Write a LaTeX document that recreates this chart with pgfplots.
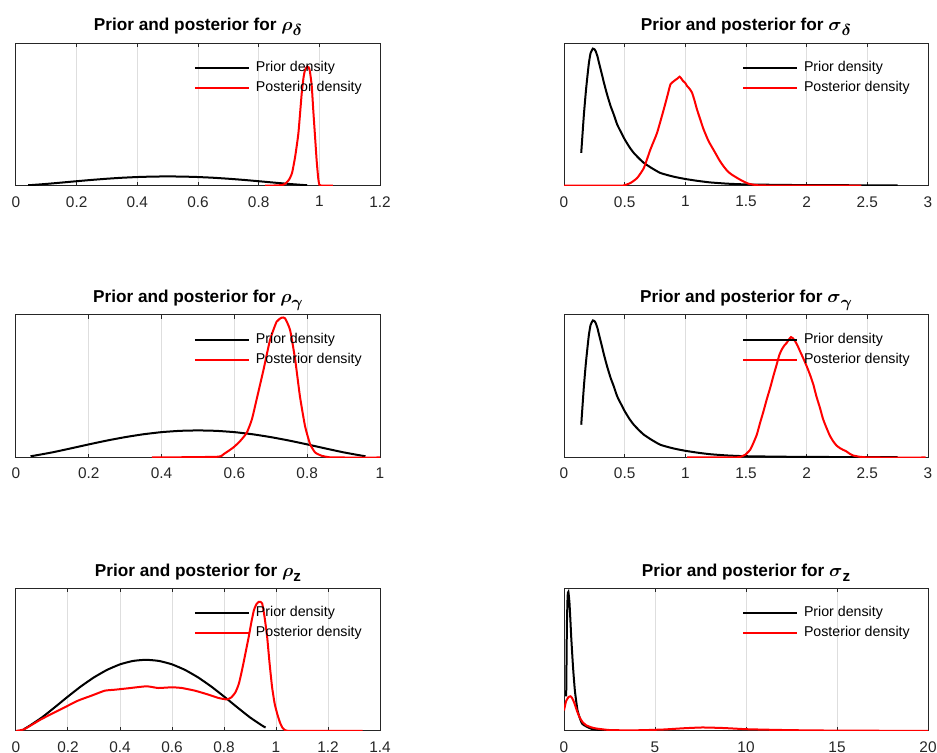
\documentclass[border=0pt]{standalone}
\usepackage{pgfplots}
\pgfplotsset{compat=1.18}
\usepackage{amsmath}
\usepackage{bm}
\usepackage{fontspec}
\setmainfont{Liberation Sans}
\definecolor{axcol}{RGB}{38,38,38}
\definecolor{gridcol}{RGB}{222,222,222}
\definecolor{postred}{RGB}{255,0,0}
\newcommand{\sub}[1]{\raisebox{-2.6pt}{\fontsize{7.6}{8}\selectfont#1}}
\pgfplotsset{
  panel/.style={
    scale only axis, width=182pt, height=71.25pt,
    xmin=0, ymin=0, ymax=1, enlargelimits=false,
    ytick=\empty,
    xmajorgrids, grid style={draw=gridcol, line width=0.5pt},
    axis line style={draw=axcol, line width=0.5pt},
    tick align=inside, xtick pos=both, major tick length=1.8pt,
    tick style={draw=axcol, line width=0.5pt},
    xticklabel style={font=\fontsize{7.7}{9}\selectfont, text=axcol, yshift=-1.8pt},
    /pgf/number format/assume math mode=true,
    scaled x ticks=false,
    every axis title/.style={font=\bfseries\fontsize{8.6}{10}\selectfont, at={(0.5,1)}, anchor=base, yshift=6.2pt, inner sep=0pt},
    legend style={draw=none, fill=none, at={(0.489,1)}, anchor=north west, yshift=-9pt,
      inner sep=0pt, outer sep=0pt, font=\fontsize{7.1}{8}\selectfont, text=black,
      row sep=3.3pt, column sep=3pt,
      nodes={inner sep=0pt, text height=5.2pt, text depth=1.5pt, anchor=west}},
    legend cell align=left,
    legend image code/.code={\draw[#1] (0pt,0pt) -- (27pt,0pt);},
    every axis plot/.append style={line width=1pt},
  },
  prior/.style={black, line width=1pt, smooth, tension=0.3},
  post/.style={postred, line width=1pt, smooth, tension=0.3},
}
\begin{document}
\begin{tikzpicture}
\useasboundingbox (0,0) rectangle (468.5pt,-376.5pt);

% ---------- rho_delta ----------
\begin{axis}[panel, at={(8pt,-21.6pt)}, anchor=north west,
  xmax=1.2, xtick={0,0.2,0.4,0.6,0.8,1,1.2},
  title={Prior and posterior for $\bm{\rho}$\sub{$\bm{\delta}$}}]
\addplot[prior] coordinates {(0.04,0.0031)(0.05,0.0044)(0.1,0.0124)(0.15,0.0218)(0.2,0.0315)(0.25,0.0407)(0.3,0.0489)(0.35,0.0558)(0.4,0.0608)(0.45,0.0639)(0.5,0.065)(0.55,0.0639)(0.6,0.0608)(0.65,0.0558)(0.7,0.0489)(0.75,0.0407)(0.8,0.0315)(0.85,0.0218)(0.9,0.0124)(0.95,0.0044)(0.96,0.0031)};
\addlegendentry{Prior density}
\addplot[post] coordinates {(0.821,0)(0.86,0.002)(0.88,0.006)(0.89,0.018)(0.90,0.042)(0.91,0.089)(0.92,0.20)(0.931,0.369)(0.942,0.650)(0.948,0.76)(0.953,0.813)(0.96,0.836)(0.965,0.83)(0.969,0.801)(0.975,0.70)(0.98,0.530)(0.986,0.34)(0.991,0.182)(0.996,0.06)(1.0,0.007)(1.01,0)(1.045,0)};
\addlegendentry{Posterior density}
\end{axis}

% ---------- sigma_delta ----------
\begin{axis}[panel, at={(282pt,-21.6pt)}, anchor=north west,
  xmax=3, xtick={0,0.5,1,1.5,2,2.5,3},
  title={Prior and posterior for $\bm{\sigma}$\sub{$\bm{\delta}$}}]
\addplot[prior] coordinates {(0.142,0.23)(0.15,0.33)(0.164,0.50)(0.18,0.66)(0.192,0.76)(0.205,0.86)(0.219,0.93)(0.238,0.962)(0.25,0.958)(0.26,0.946)(0.275,0.91)(0.288,0.864)(0.31,0.79)(0.329,0.723)(0.355,0.64)(0.384,0.559)(0.41,0.50)(0.438,0.43)(0.47,0.375)(0.501,0.324)(0.54,0.27)(0.575,0.23)(0.62,0.19)(0.658,0.16)(0.72,0.125)(0.795,0.089)(0.9,0.064)(1.0,0.047)(1.1,0.034)(1.205,0.023)(1.35,0.014)(1.5,0.009)(1.75,0.006)(2.0,0.004)(2.4,0.003)(2.75,0.002)};
\addlegendentry{Prior density}
\addplot[post] coordinates {(0,0)(0.45,0.001)(0.493,0.002)(0.548,0.019)(0.603,0.054)(0.658,0.124)(0.712,0.254)(0.767,0.371)(0.822,0.535)(0.855,0.64)(0.877,0.711)(0.9,0.73)(0.918,0.742)(0.935,0.752)(0.953,0.765)(0.967,0.752)(0.981,0.735)(1.0,0.72)(1.014,0.70)(1.035,0.68)(1.055,0.653)(1.075,0.60)(1.096,0.535)(1.125,0.46)(1.151,0.394)(1.192,0.312)(1.247,0.23)(1.28,0.18)(1.315,0.136)(1.35,0.10)(1.384,0.077)(1.452,0.042)(1.521,0.014)(1.616,0.002)(2.0,0)(2.45,0)};
\addlegendentry{Posterior density}
\end{axis}

% ---------- rho_gamma ----------
\begin{axis}[panel, at={(8pt,-157.5pt)}, anchor=north west,
  xmax=1, xtick={0,0.2,0.4,0.6,0.8,1},
  title={Prior and posterior for $\bm{\rho}$\sub{$\bm{\gamma}$}}]
\addplot[prior] coordinates {(0.04,0.009)(0.05,0.0128)(0.1,0.0361)(0.15,0.0636)(0.2,0.092)(0.25,0.119)(0.3,0.143)(0.35,0.163)(0.4,0.178)(0.45,0.187)(0.5,0.19)(0.55,0.187)(0.6,0.178)(0.65,0.163)(0.7,0.143)(0.75,0.119)(0.8,0.092)(0.85,0.0636)(0.9,0.0361)(0.95,0.0128)(0.96,0.009)};
\addlegendentry{Prior density}
\addplot[post] coordinates {(0.373,0)(0.552,0.005)(0.57,0.023)(0.597,0.07)(0.616,0.116)(0.634,0.174)(0.648,0.267)(0.661,0.407)(0.68,0.616)(0.698,0.826)(0.716,0.953)(0.73,0.981)(0.739,0.977)(0.753,0.895)(0.767,0.686)(0.78,0.43)(0.794,0.221)(0.808,0.093)(0.822,0.035)(0.84,0.012)(0.863,0.001)(0.9,0)(1.0,0)};
\addlegendentry{Posterior density}
\end{axis}

% ---------- sigma_gamma ----------
\begin{axis}[panel, at={(282pt,-157.5pt)}, anchor=north west,
  xmax=3, xtick={0,0.5,1,1.5,2,2.5,3},
  title={Prior and posterior for $\bm{\sigma}$\sub{$\bm{\gamma}$}}]
\addplot[prior] coordinates {(0.142,0.23)(0.15,0.33)(0.164,0.50)(0.18,0.66)(0.192,0.76)(0.205,0.86)(0.219,0.93)(0.238,0.962)(0.25,0.958)(0.26,0.946)(0.275,0.91)(0.288,0.864)(0.31,0.79)(0.329,0.723)(0.355,0.64)(0.384,0.559)(0.41,0.50)(0.438,0.43)(0.47,0.375)(0.501,0.324)(0.54,0.27)(0.575,0.23)(0.62,0.19)(0.658,0.16)(0.72,0.125)(0.795,0.089)(0.9,0.064)(1.0,0.047)(1.1,0.034)(1.205,0.023)(1.35,0.014)(1.5,0.009)(1.75,0.006)(2.0,0.004)(2.4,0.003)(2.75,0.002)};
\addlegendentry{Prior density}
\addplot[post] coordinates {(1.014,0)(1.4,0.001)(1.452,0.004)(1.493,0.019)(1.534,0.054)(1.56,0.10)(1.589,0.16)(1.615,0.24)(1.644,0.324)(1.67,0.405)(1.699,0.488)(1.725,0.57)(1.753,0.653)(1.775,0.72)(1.795,0.758)(1.815,0.785)(1.836,0.805)(1.855,0.83)(1.871,0.845)(1.885,0.838)(1.904,0.817)(1.925,0.785)(1.945,0.746)(1.97,0.70)(2.0,0.641)(2.03,0.575)(2.055,0.512)(2.08,0.43)(2.11,0.347)(2.135,0.27)(2.164,0.207)(2.19,0.155)(2.219,0.113)(2.245,0.085)(2.274,0.066)(2.3,0.054)(2.329,0.042)(2.355,0.026)(2.384,0.014)(2.438,0.005)(2.5,0.001)(2.6,0)(2.98,0)};
\addlegendentry{Posterior density}
\end{axis}

% ---------- rho_z ----------
\begin{axis}[panel, at={(8pt,-294.2pt)}, anchor=north west,
  xmax=1.4, xtick={0,0.2,0.4,0.6,0.8,1,1.2,1.4},
  title={Prior and posterior for $\bm{\rho}$\sub{\bfseries z}}]
\addplot[prior] coordinates {(0.03,0.012)(0.05,0.0336)(0.1,0.0948)(0.15,0.167)(0.2,0.2415)(0.25,0.3127)(0.3,0.3757)(0.35,0.428)(0.4,0.467)(0.45,0.491)(0.5,0.499)(0.55,0.491)(0.6,0.467)(0.65,0.428)(0.7,0.3757)(0.75,0.3127)(0.8,0.2415)(0.85,0.167)(0.9,0.0948)(0.95,0.0336)(0.96,0.0238)};
\addlegendentry{Prior density}
\addplot[post] coordinates {(0,0)(0.032,0.012)(0.097,0.082)(0.161,0.141)(0.238,0.212)(0.29,0.247)(0.341,0.282)(0.38,0.289)(0.431,0.299)(0.502,0.313)(0.547,0.301)(0.599,0.306)(0.638,0.301)(0.689,0.282)(0.741,0.254)(0.779,0.231)(0.811,0.221)(0.828,0.235)(0.844,0.271)(0.857,0.33)(0.869,0.424)(0.882,0.54)(0.895,0.659)(0.905,0.76)(0.915,0.847)(0.925,0.89)(0.934,0.906)(0.941,0.905)(0.947,0.894)(0.956,0.80)(0.966,0.659)(0.975,0.48)(0.985,0.306)(0.995,0.19)(1.005,0.118)(1.015,0.06)(1.024,0.024)(1.034,0.006)(1.043,0.001)(1.06,0)(1.333,0)};
\addlegendentry{Posterior density}
\end{axis}

% ---------- sigma_z ----------
\begin{axis}[panel, at={(282pt,-294.2pt)}, anchor=north west,
  xmax=20, xtick={0,5,10,15,20},
  title={Prior and posterior for $\bm{\sigma}$\sub{\bfseries z}}]
\addplot[prior] coordinates {(0.12,0.243)(0.14,0.5)(0.16,0.75)(0.2,0.95)(0.24,0.976)(0.3,0.9)(0.35,0.78)(0.4,0.65)(0.5,0.44)(0.6,0.28)(0.75,0.14)(1.0,0.05)(1.5,0.015)(2.0,0.006)(2.75,0.002)};
\addlegendentry{Prior density}
\addplot[post] coordinates {(0,0.143)(0.11,0.207)(0.25,0.238)(0.35,0.243)(0.45,0.23)(0.57,0.195)(0.7,0.145)(0.84,0.10)(1.0,0.065)(1.21,0.04)(1.5,0.025)(1.76,0.017)(2.5,0.006)(3.5,0.004)(4.3,0.005)(5.5,0.01)(6.5,0.018)(7.6,0.024)(8.8,0.02)(10,0.012)(11.3,0.008)(12.6,0.005)(15,0.002)(17.5,0.001)(20,0)};
\addlegendentry{Posterior density}
\end{axis}
\end{tikzpicture}
\end{document}
